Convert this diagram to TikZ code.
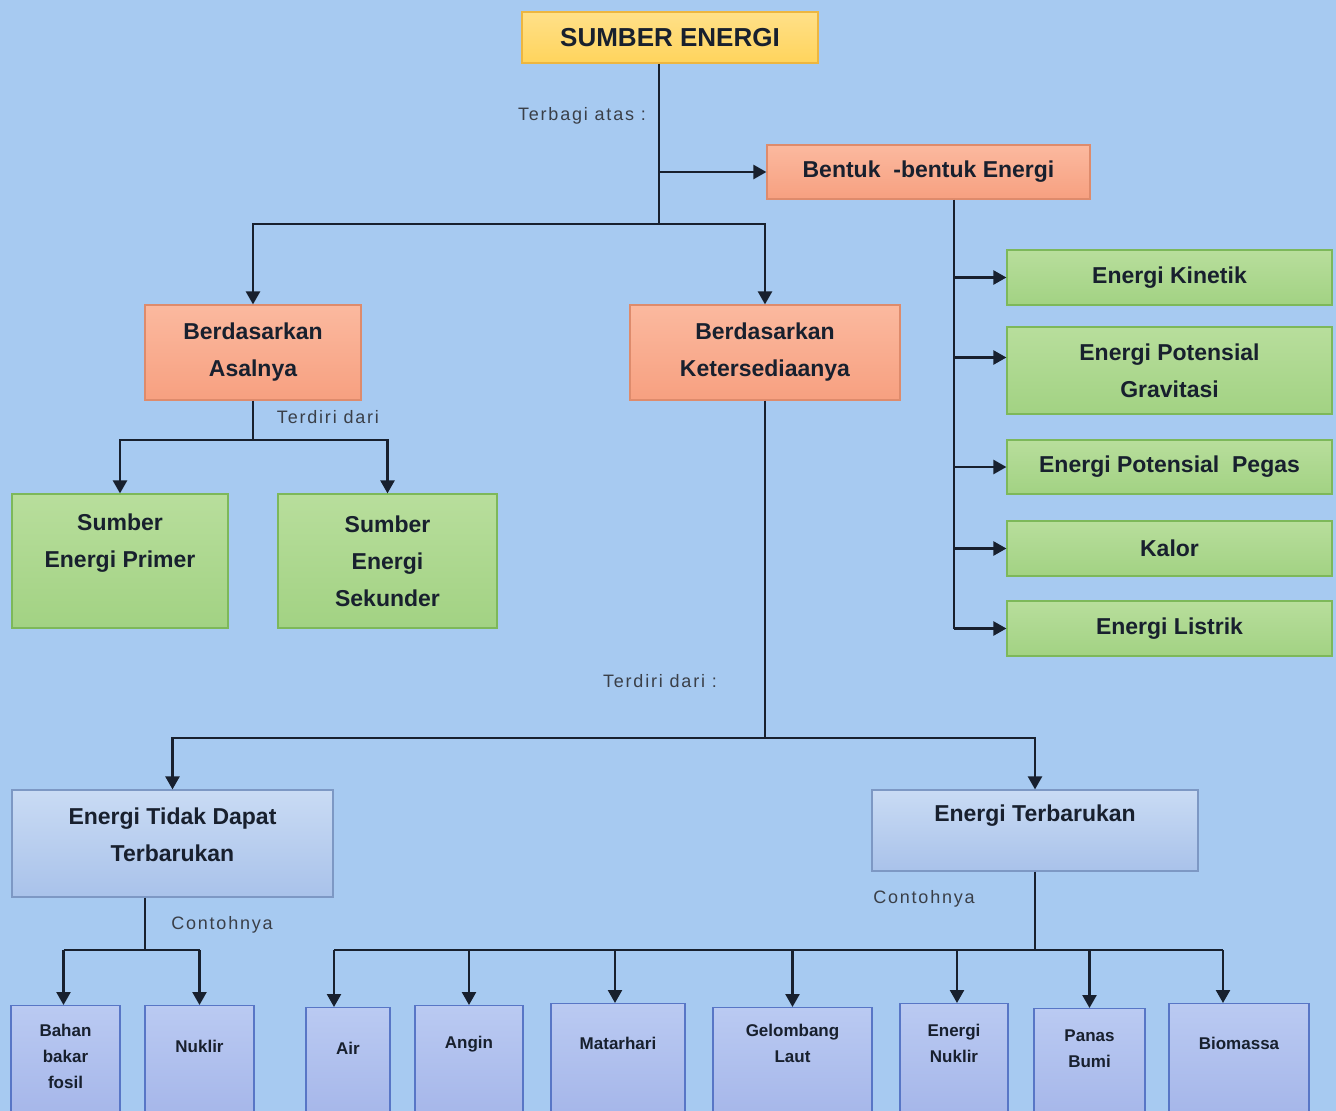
\documentclass[tikz,border=0pt]{standalone}
\usepackage{fontspec}
\setmainfont{Liberation Sans}
\newfontfamily\notefont[LetterSpace=10]{Liberation Sans}
\usetikzlibrary{arrows.meta,calc,positioning}
\definecolor{EnergiSky}{HTML}{A7CAF1}
\definecolor{EnergiInk}{HTML}{18202E}
\definecolor{EnergiNote}{HTML}{3A3F48}
\definecolor{EnergiGoldTop}{HTML}{FFE089}
\definecolor{EnergiGoldBot}{HTML}{FFD45C}
\definecolor{EnergiGoldLine}{HTML}{EDB640}
\definecolor{EnergiPeachTop}{HTML}{FBB99F}
\definecolor{EnergiPeachBot}{HTML}{F7A080}
\definecolor{EnergiPeachLine}{HTML}{DE8B6C}
\definecolor{EnergiLeafTop}{HTML}{B8DE9C}
\definecolor{EnergiLeafBot}{HTML}{A2D283}
\definecolor{EnergiLeafLine}{HTML}{7DB85A}
\definecolor{EnergiIceTop}{HTML}{C9DBF4}
\definecolor{EnergiIceBot}{HTML}{A9C2EA}
\definecolor{EnergiIceLine}{HTML}{7D98C4}
\definecolor{EnergiLilacTop}{HTML}{BACAF2}
\definecolor{EnergiLilacBot}{HTML}{A0B1E7}
\definecolor{EnergiLilacLine}{HTML}{5876C6}

\begin{document}
\begin{tikzpicture}[x=1pt,y=-1pt,
    goldbox/.style={draw=EnergiGoldLine,top color=EnergiGoldTop,bottom color=EnergiGoldBot,
      line width=1.2pt,text=EnergiInk,font=\bfseries\fontsize{26}{30}\selectfont},
    peachbox/.style={draw=EnergiPeachLine,top color=EnergiPeachTop,bottom color=EnergiPeachBot,
      line width=1.2pt,text=EnergiInk,align=center,font=\bfseries\fontsize{23}{37}\selectfont},
    leafbox/.style={draw=EnergiLeafLine,top color=EnergiLeafTop,bottom color=EnergiLeafBot,
      line width=1.2pt,text=EnergiInk,align=center,font=\bfseries\fontsize{23}{37}\selectfont},
    icebox/.style={draw=EnergiIceLine,top color=EnergiIceTop,bottom color=EnergiIceBot,
      line width=1.2pt},
    lilacbox/.style={draw=EnergiLilacLine,top color=EnergiLilacTop,bottom color=EnergiLilacBot,
      line width=1.2pt},
    boxtext/.style={text=EnergiInk,align=center,font=\bfseries\fontsize{23}{37}\selectfont},
    smalltext/.style={text=EnergiInk,align=center,font=\bfseries\fontsize{17}{26}\selectfont},
    note/.style={text=EnergiNote,font=\notefont\fontsize{18}{20}\selectfont},
    link/.style={draw=EnergiInk,line width=2.4pt},
    arrow/.style={link,-{Triangle[length=13pt,width=14pt]}}]

        \fill[EnergiSky] (0,0) rectangle (1336,1111);
        \useasboundingbox (0,0) rectangle (1336,1111);

        % top of the tree
        \node[goldbox,minimum width=296pt,minimum height=51pt] (sumber) at (670,37.5) {SUMBER ENERGI};
        \node[peachbox,minimum width=323pt,minimum height=54pt] (bentuk) at (928.5,172) {Bentuk\ \ -bentuk Energi};
        \node[peachbox,minimum width=216pt,minimum height=95pt] (asal) at (253,352.5) {Berdasarkan\\Asalnya};
        \node[peachbox,minimum width=270pt,minimum height=95pt] (sedia) at (765,352.5) {Berdasarkan\\Ketersediaanya};

        % bentuk-bentuk energi
        \node[leafbox,minimum width=325pt,minimum height=55pt] (kinetik) at (1169.5,277.5) {Energi Kinetik};
        \node[leafbox,minimum width=325pt,minimum height=87pt] (gravitasi) at (1169.5,370.5) {Energi Potensial\\Gravitasi};
        \node[leafbox,minimum width=325pt,minimum height=54pt] (pegas) at (1169.5,467) {Energi Potensial\ \ Pegas};
        \node[leafbox,minimum width=325pt,minimum height=55pt] (kalor) at (1169.5,548.5) {Kalor};
        \node[leafbox,minimum width=325pt,minimum height=55pt] (listrik) at (1169.5,628.5) {Energi Listrik};

        % berdasarkan asalnya
        \node[leafbox,minimum width=216pt,minimum height=134pt] (primer) at (120,561) {};
        \node[boxtext] (primertxt) at (120,543) {Sumber\\Energi Primer};
        \node[leafbox,minimum width=219pt,minimum height=134pt] (sekunder) at (387.5,561) {Sumber\\Energi\\Sekunder};

        % berdasarkan ketersediaanya
        \node[icebox,minimum width=321pt,minimum height=107pt] (takbaru) at (172.5,843.5) {};
        \node[boxtext] (takbarutxt) at (172.5,835) {Energi Tidak Dapat\\Terbarukan};
        \node[icebox,minimum width=326pt,minimum height=81pt] (baru) at (1035,830.5) {};
        \node[boxtext] (barutxt) at (1035,816) {Energi Terbarukan};

        % contoh-contoh
        \foreach \n/\cx/\w/\top/\ty/\lab in {fosil/65.5/109/1005/1056/{Bahan\\bakar\\fosil},
            nuklir/199.5/109/1005/1046/{Nuklir},air/348/84/1007/1048/{Air},
            angin/469/108/1005/1044/{Angin},matahari/618/134/1003/1043/{Matarhari},
            gelombang/792.5/159/1007/1043/{Gelombang\\Laut},enuklir/954/108/1003/1043/{Energi\\Nuklir},
            panas/1089.5/111/1008/1049/{Panas\\Bumi},biomassa/1239/140/1003/1043/{Biomassa}}{
          \node[lilacbox,anchor=north,minimum width=\w pt,minimum height=140pt] (\n) at (\cx,\top) {};
          \node[smalltext] (\n txt) at (\cx,\ty) {\lab};
        }

        % connectors
        \coordinate (hub) at (659,224);
        \draw[link] (sumber.south -| hub) -- (hub);
        \draw[arrow] (bentuk.west -| hub) -- (bentuk.west);
        \draw[arrow] (hub) -| (asal.north);
        \draw[arrow] (hub) -| (sedia.north);
        \node[note] (terbagi) at (582,116) {Terbagi atas :};

        \coordinate (asalhub) at (253,440);
        \draw[link] (asal.south) -- (asalhub);
        \draw[arrow] (asalhub) -| (primer.north);
        \draw[arrow] (asalhub) -| (sekunder.north);
        \node[note] (terdiri) at (328,417) {Terdiri dari};

        \coordinate (bentukhub) at (954,628.5);
        \draw[link] (bentuk.south -| bentukhub) -- (bentukhub);
        \foreach \n/\dy in {kinetik/0,gravitasi/-13,pegas/0,kalor/0,listrik/0}{
          \coordinate (\n-in) at ($(\n.west)+(0,\dy)$);
          \draw[arrow] (bentukhub |- \n-in) -- (\n-in);
        }

        \coordinate (sediahub) at (765,738);
        \draw[link] (sedia.south) -- (sediahub);
        \draw[arrow] (sediahub) -| (takbaru.north);
        \draw[arrow] (sediahub) -| (baru.north);
        \node[note] (terdiri2) at (660,681) {Terdiri dari :};

        \coordinate (takhub) at (145,950);
        \draw[link] (takbaru.south -| takhub) -- (takhub);
        \foreach \n/\dx in {fosil/-2,nuklir/0}
          \coordinate (\n-in) at ($(\n.north)+(\dx,0)$);
        \draw[link] (fosil-in |- takhub) -- (nuklir-in |- takhub);
        \foreach \n in {fosil,nuklir}
          \draw[arrow] (\n-in |- takhub) -- (\n-in);
        \node[note] (contoh) at (222,925) {Contohnya};

        \coordinate (baruhub) at (1035,950);
        \draw[link] (baru.south) -- (baruhub);
        \foreach \n/\dx in {air/-14,angin/0,matahari/-3,gelombang/0,enuklir/3,panas/0,biomassa/-16}
          \coordinate (\n-in) at ($(\n.north)+(\dx,0)$);
        \draw[link] (air-in |- baruhub) -- (biomassa-in |- baruhub);
        \foreach \n in {air,angin,matahari,gelombang,enuklir,panas,biomassa}
          \draw[arrow] (\n-in |- baruhub) -- (\n-in);
        \node[note] (contoh2) at (924,899) {Contohnya};
      \end{tikzpicture}
\end{document}
